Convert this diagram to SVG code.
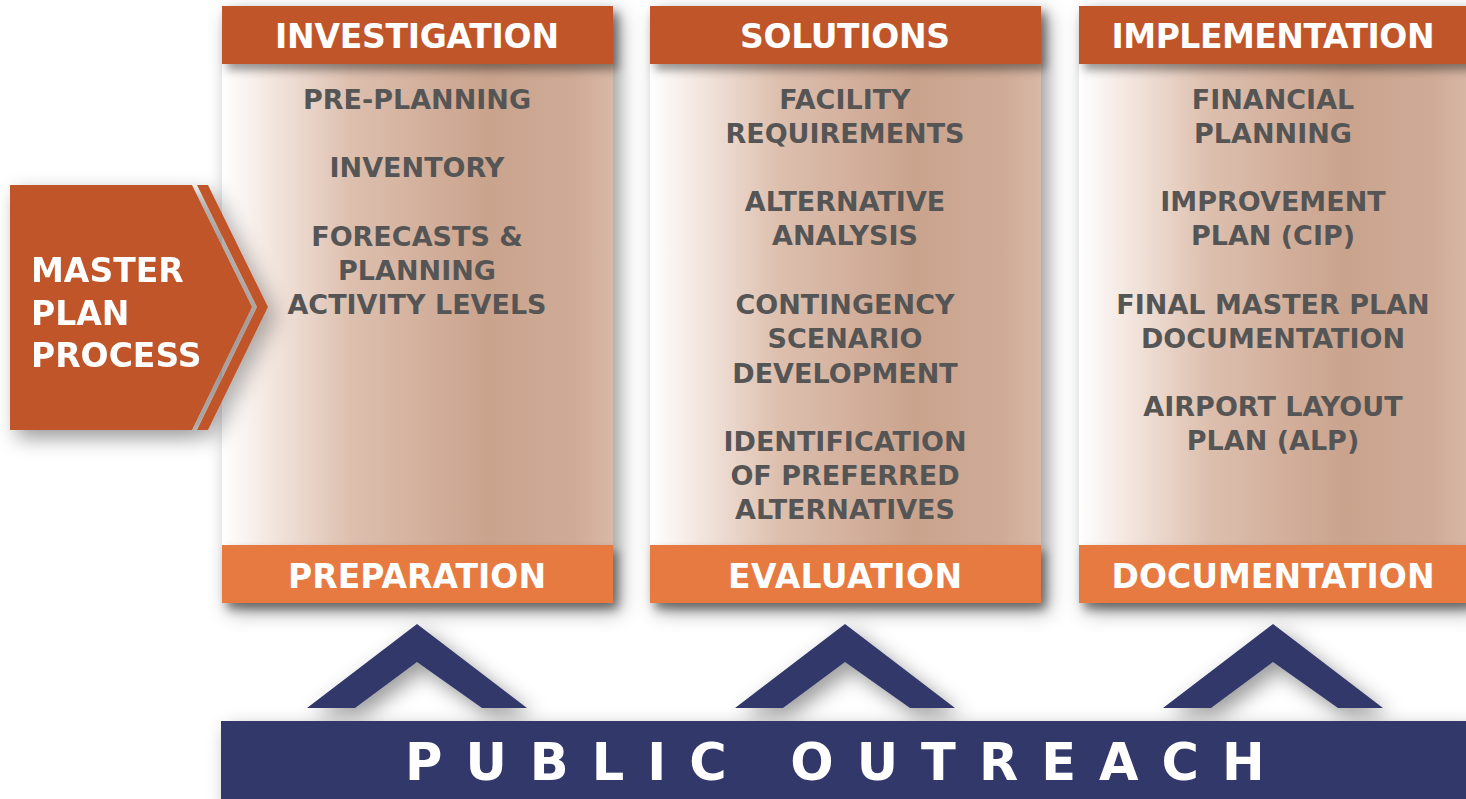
<svg xmlns="http://www.w3.org/2000/svg" width="1466" height="799" viewBox="0 0 1466 799">
  <defs>
    <linearGradient id="bodyGrad" x1="0" y1="0" x2="1" y2="0">
      <stop offset="0" stop-color="#ffffff"/>
      <stop offset="0.1" stop-color="#f6ebe5"/>
      <stop offset="0.33" stop-color="#ddbfae"/>
      <stop offset="0.68" stop-color="#caa38d"/>
      <stop offset="0.9" stop-color="#cfab97"/>
      <stop offset="1" stop-color="#d8b8a6"/>
    </linearGradient>
    <filter id="shadow" x="-20%" y="-20%" width="150%" height="150%">
      <feDropShadow dx="7" dy="8" stdDeviation="10" flood-color="#000" flood-opacity="0.4"/>
    </filter>
    <filter id="shadowSmall" x="-10%" y="-30%" width="120%" height="180%">
      <feDropShadow dx="5" dy="6" stdDeviation="5" flood-color="#000" flood-opacity="0.4"/>
    </filter>
  </defs>
  <style>
    .hdr { fill: #c0552a; }
    .ftr { fill: #e67a41; }
    .navy { fill: #31386a; }
    .htxt { font-family: "DejaVu Sans", "Liberation Sans", sans-serif; font-weight: bold; font-size: 33px; fill: #ffffff; text-anchor: middle; }
    .btxt { font-family: "DejaVu Sans", "Liberation Sans", sans-serif; font-weight: bold; font-size: 27px; fill: #555555; text-anchor: middle; }
    .mtxt { font-family: "DejaVu Sans", "Liberation Sans", sans-serif; font-weight: bold; font-size: 33px; fill: #ffffff; }
    .otxt { font-family: "DejaVu Sans", "Liberation Sans", sans-serif; font-weight: bold; font-size: 51px; fill: #ffffff; letter-spacing: 23px; }
  </style>
  <rect width="1466" height="799" fill="#ffffff"/>

  <!-- Column 1 -->
  <g id="col-investigation">
    <rect x="222" y="6" width="391" height="597" fill="url(#bodyGrad)" filter="url(#shadow)"/>
    <rect class="hdr" x="222" y="6" width="391" height="58" filter="url(#shadowSmall)"/>
    <text class="htxt" x="417" y="48" textLength="284">INVESTIGATION</text>
    <text class="btxt" x="417" y="109">PRE-PLANNING</text>
    <text class="btxt" x="417" y="177">INVENTORY</text>
    <text class="btxt" x="417" y="246">FORECASTS &amp;</text>
    <text class="btxt" x="417" y="280">PLANNING</text>
    <text class="btxt" x="417" y="314">ACTIVITY LEVELS</text>
    <rect class="ftr" x="222" y="545" width="391" height="58" filter="url(#shadowSmall)"/>
    <text class="htxt" x="417" y="588" textLength="258">PREPARATION</text>
  </g>

  <!-- Column 2 -->
  <g id="col-solutions">
    <rect x="650" y="6" width="391" height="597" fill="url(#bodyGrad)" filter="url(#shadow)"/>
    <rect class="hdr" x="650" y="6" width="391" height="58" filter="url(#shadowSmall)"/>
    <text class="htxt" x="845" y="48" textLength="210">SOLUTIONS</text>
    <text class="btxt" x="845" y="109">FACILITY</text>
    <text class="btxt" x="845" y="143">REQUIREMENTS</text>
    <text class="btxt" x="845" y="211">ALTERNATIVE</text>
    <text class="btxt" x="845" y="245">ANALYSIS</text>
    <text class="btxt" x="845" y="314">CONTINGENCY</text>
    <text class="btxt" x="845" y="348">SCENARIO</text>
    <text class="btxt" x="845" y="383">DEVELOPMENT</text>
    <text class="btxt" x="845" y="451">IDENTIFICATION</text>
    <text class="btxt" x="845" y="485">OF PREFERRED</text>
    <text class="btxt" x="845" y="519">ALTERNATIVES</text>
    <rect class="ftr" x="650" y="545" width="391" height="58" filter="url(#shadowSmall)"/>
    <text class="htxt" x="845" y="588" textLength="234">EVALUATION</text>
  </g>

  <!-- Column 3 -->
  <g id="col-implementation">
    <rect x="1079" y="6" width="392" height="597" fill="url(#bodyGrad)" filter="url(#shadow)"/>
    <rect class="hdr" x="1079" y="6" width="392" height="58" filter="url(#shadowSmall)"/>
    <text class="htxt" x="1273" y="48" textLength="323">IMPLEMENTATION</text>
    <text class="btxt" x="1273" y="109">FINANCIAL</text>
    <text class="btxt" x="1273" y="143">PLANNING</text>
    <text class="btxt" x="1273" y="211">IMPROVEMENT</text>
    <text class="btxt" x="1273" y="245">PLAN (CIP)</text>
    <text class="btxt" x="1273" y="314">FINAL MASTER PLAN</text>
    <text class="btxt" x="1273" y="348">DOCUMENTATION</text>
    <text class="btxt" x="1273" y="416">AIRPORT LAYOUT</text>
    <text class="btxt" x="1273" y="450">PLAN (ALP)</text>
    <rect class="ftr" x="1079" y="545" width="392" height="58" filter="url(#shadowSmall)"/>
    <text class="htxt" x="1273" y="588" textLength="323">DOCUMENTATION</text>
  </g>

  <!-- Master plan process arrow -->
  <g id="master-plan-process" filter="url(#shadow)">
    <polygon class="hdr" points="10,185 192,185 252,307 192,430 10,430"/>
    <polygon class="hdr" points="197,185 208,185 268,307 208,430 197,430 257,307"/>
    <text class="mtxt" x="31" y="282">MASTER</text>
    <text class="mtxt" x="31" y="325">PLAN</text>
    <text class="mtxt" x="31" y="367">PROCESS</text>
  </g>

  <!-- Connectors: chevrons -->
  <g id="connectors" filter="url(#shadow)">
    <polygon class="navy" points="307,708 417,624 527,708 482,708 417,662 355,708"/>
    <polygon class="navy" points="735,708 845,624 955,708 910,708 845,662 783,708"/>
    <polygon class="navy" points="1163,708 1273,624 1383,708 1338,708 1273,662 1211,708"/>
  </g>

  <!-- Public outreach bar -->
  <g id="public-outreach">
    <rect class="navy" x="221" y="721" width="1250" height="82" filter="url(#shadow)"/>
    <text class="otxt" x="405" y="780">PUBLIC OUTREACH</text>
  </g>
</svg>
